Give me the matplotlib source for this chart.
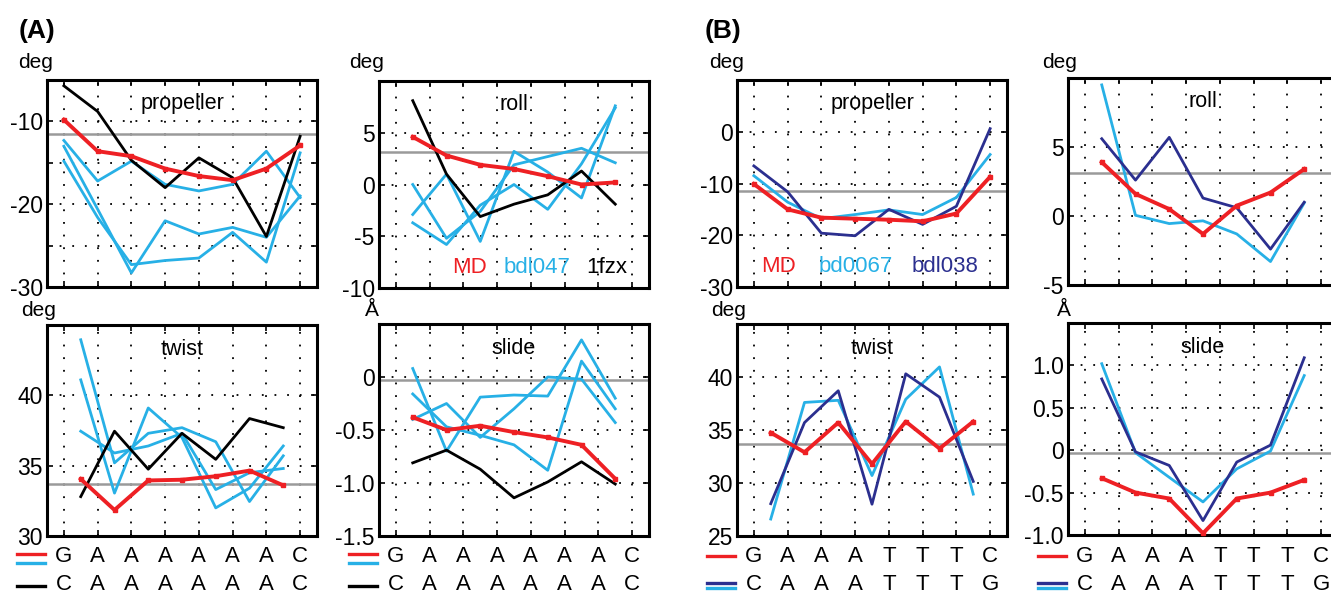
import matplotlib
matplotlib.use("Agg")
import matplotlib.pyplot as plt
import numpy as np
from matplotlib.lines import Line2D
from matplotlib.transforms import blended_transform_factory

plt.rcParams['font.family'] = ['Liberation Sans', 'DejaVu Sans']
plt.rcParams['axes.unicode_minus'] = False

RED = '#ee2024'
CYAN = '#27b0e6'
NAVY = '#2b2f8f'
GRAY = '#9a9a9a'

# ---- data (A): MD, NMR ensemble bdl047 (3 models), X-ray 1fzx ----
a_prop_md = [-9.8, -13.6, -14.2, -15.7, -16.6, -17.1, -15.7, -12.9]
a_prop_xray = [-5.7, -8.8, -14.7, -18.0, -14.4, -16.8, -23.9, -11.8]
a_prop_nmr = [[-12.3, -17.2, -14.8, -17.6, -18.4, -17.6, -13.6, -19.2],
              [-13.0, -20.6, -28.3, -22.0, -23.6, -22.8, -24.0, -19.0],
              [-14.8, -21.6, -27.3, -26.8, -26.5, -23.4, -27.0, -13.8]]

a_roll_md = [4.6, 2.8, 1.9, 1.5, 0.8, 0.0, 0.2]
a_roll_xray = [8.1, 1.0, -3.1, -1.9, -1.0, 1.3, -1.9]
a_roll_nmr = [[0.0, -5.2, -2.6, 1.9, 2.7, 3.5, 2.1],
              [-2.9, 1.0, -5.5, 3.2, 1.2, -1.3, 7.6],
              [-3.7, -5.8, -2.0, 0.0, -2.4, 2.0, 7.4]]

a_twist_md = [34.05, 31.85, 33.95, 34.0, 34.25, 34.65, 33.6]
a_twist_xray = [32.8, 37.45, 34.75, 37.3, 35.45, 38.35, 37.7]
a_twist_nmr = [[41.1, 33.05, 39.1, 37.0, 32.0, 33.4, 36.4],
               [43.95, 35.2, 37.3, 37.7, 36.7, 32.45, 35.7],
               [37.45, 35.9, 36.4, 37.3, 33.3, 34.5, 34.8]]

a_slide_md = [-0.38, -0.50, -0.46, -0.52, -0.57, -0.64, -0.96]
a_slide_xray = [-0.81, -0.69, -0.87, -1.14, -0.99, -0.80, -1.01]
a_slide_nmr = [[0.08, -0.70, -0.19, -0.17, -0.18, 0.35, -0.20],
               [-0.16, -0.47, -0.55, -0.64, -0.88, 0.15, -0.30],
               [-0.40, -0.25, -0.57, -0.30, 0.0, -0.02, -0.43]]

# ---- data (B): MD, bd0067, bdl038 ----
b_prop_md = [-10.1, -15.0, -16.6, -16.8, -17.0, -17.3, -15.8, -8.7]
b_prop_0067 = [-8.5, -13.6, -16.8, -16.0, -15.1, -16.0, -12.7, -4.4]
b_prop_l038 = [-6.6, -11.6, -19.6, -20.1, -15.0, -17.9, -14.4, 0.6]

b_roll_md = [3.9, 1.6, 0.5, -1.3, 0.75, 1.7, 3.4]
b_roll_0067 = [9.5, 0.05, -0.55, -0.35, -1.3, -3.3, 0.95]
b_roll_l038 = [5.6, 2.6, 5.7, 1.3, 0.6, -2.4, 1.0]

b_twist_md = [34.75, 32.9, 35.7, 31.8, 35.8, 33.25, 35.8]
b_twist_0067 = [26.6, 37.6, 37.8, 30.7, 37.9, 40.95, 28.95]
b_twist_l038 = [28.05, 35.7, 38.7, 28.0, 40.3, 38.1, 30.15]

b_slide_md = [-0.33, -0.50, -0.57, -0.98, -0.57, -0.50, -0.35]
b_slide_0067 = [1.02, -0.03, -0.32, -0.61, -0.22, -0.01, 0.88]
b_slide_l038 = [0.84, -0.02, -0.18, -0.83, -0.14, 0.06, 1.09]

# reference (average B-DNA) values
ref_prop, ref_roll, ref_twist, ref_slide = -11.5, 3.15, 33.7, -0.03

a_seq1 = list("GAAAAAAC")
a_seq2 = list("CAAAAAAC")
b_seq1 = list("GAAATTTC")
b_seq2 = list("CAAATTTG")

W, H = 1331, 592
fig = plt.figure(figsize=(W / 100, H / 100), dpi=100)


def px_axes(left, top, width=270, height=207):
    return fig.add_axes([left / W, 1 - (top + height) / H, width / W, height / H])


def setup(ax, ylim, ticks, labels, title, ref):
    ax.set_xlim(0.5, 8.5)
    ax.set_ylim(*ylim)
    ax.set_xticks(range(1, 9))
    ax.set_xticklabels([])
    ax.set_yticks(ticks)
    ax.set_yticklabels(labels)
    ax.grid(True, color='k', linestyle=(0, (1, 6)), linewidth=1.3)
    ax.set_axisbelow(True)
    ax.axhline(ref, color=GRAY, lw=1.8, zorder=1.5)
    for s in ax.spines.values():
        s.set_linewidth(2.2)
    ax.tick_params(direction='in', length=4, width=1.2, top=True, right=True,
                   labelsize=16.5, pad=3)
    ax.text(0.5, 0.885, title, transform=ax.transAxes, ha='center', va='center',
            fontsize=15.5)


def draw(ax, steps, series):
    x = np.arange(1, 8) + 0.5 if steps else np.arange(1, 9)
    for y, c, lw, mk in series:
        ax.plot(x, y, color=c, lw=lw, marker=mk, ms=3.5, zorder=3 if c == RED else 2.5,
                clip_on=False)


def unit(x, y, s):
    fig.text(x / W, 1 - y / H, s, ha='center', va='center', fontsize=15)


def seq(ax, left, row1, row2, lines1, lines2):
    tr = blended_transform_factory(ax.transData, fig.transFigure)
    for i, (c1, c2) in enumerate(zip(row1, row2)):
        ax.text(i + 1, 1 - 557 / H, c1, transform=tr, ha='center', va='center', fontsize=16)
        ax.text(i + 1, 1 - 584 / H, c2, transform=tr, ha='center', va='center', fontsize=16)
    for y, c in lines1 + lines2:
        fig.add_artist(Line2D([(left - 30) / W, (left - 2) / W], [1 - y / H, 1 - y / H],
                              color=c, lw=2.4, transform=fig.transFigure))


LW, LWR = 2.0, 2.8

# ---------------- panel A ----------------
ax = px_axes(47, 80)
setup(ax, (-30, -5), [-30, -25, -20, -15, -10], ['-30', '', '-20', '', '-10'], 'propeller', ref_prop)
draw(ax, False, [(s, CYAN, LW, None) for s in a_prop_nmr] +
     [(a_prop_xray, 'k', LW, None), (a_prop_md, RED, LWR, 's')])
unit(36, 62, 'deg')

ax = px_axes(379, 81)
setup(ax, (-10, 10), [-10, -5, 0, 5], ['-10', '-5', '0', '5'], 'roll', ref_roll)
draw(ax, True, [(s, CYAN, LW, None) for s in a_roll_nmr] +
     [(a_roll_xray, 'k', LW, None), (a_roll_md, RED, LWR, 's')])
ax.text(3.18, -8.0, 'MD', color=RED, ha='center', va='center', fontsize=16)
ax.text(5.17, -8.0, 'bdl047', color=CYAN, ha='center', va='center', fontsize=16)
ax.text(7.25, -8.0, '1fzx', color='k', ha='center', va='center', fontsize=16)
unit(367, 63, 'deg')

ax = px_axes(47, 325, height=211)
setup(ax, (30, 45), [30, 35, 40], ['30', '35', '40'], 'twist', ref_twist)
draw(ax, True, [(s, CYAN, LW, None) for s in a_twist_nmr] +
     [(a_twist_xray, 'k', LW, None), (a_twist_md, RED, LWR, 's')])
seq(ax, 47, a_seq1, a_seq2, [(554, RED), (563, CYAN)], [(586, 'k')])
unit(39, 311, 'deg')

ax = px_axes(379, 324, height=212)
setup(ax, (-1.5, 0.5), [-1.5, -1.0, -0.5, 0], ['-1.5', '-1.0', '-0.5', '0'], 'slide', ref_slide)
draw(ax, True, [(s, CYAN, LW, None) for s in a_slide_nmr] +
     [(a_slide_xray, 'k', LW, None), (a_slide_md, RED, LWR, 's')])
seq(ax, 379, a_seq1, a_seq2, [(554, RED), (563, CYAN)], [(586, 'k')])
unit(372, 311, 'Å')

# ---------------- panel B ----------------
ax = px_axes(737, 80)
setup(ax, (-30, 10), [-30, -20, -10, 0], ['-30', '-20', '-10', '0'], 'propeller', ref_prop)
draw(ax, False, [(b_prop_0067, CYAN, LW, None), (b_prop_l038, NAVY, LW, None),
                 (b_prop_md, RED, LWR, 's')])
ax.text(1.73, -26.1, 'MD', color=RED, ha='center', va='center', fontsize=16)
ax.text(4.03, -26.1, 'bd0067', color=CYAN, ha='center', va='center', fontsize=16)
ax.text(6.65, -26.1, 'bdl038', color=NAVY, ha='center', va='center', fontsize=16)
unit(727, 62, 'deg')

ax = px_axes(1068, 78)
setup(ax, (-5, 10), [-5, 0, 5], ['-5', '0', '5'], 'roll', ref_roll)
draw(ax, True, [(b_roll_0067, CYAN, LW, None), (b_roll_l038, NAVY, LW, None),
                (b_roll_md, RED, LWR, 's')])
unit(1060, 62, 'deg')

ax = px_axes(737, 324, height=212)
setup(ax, (25, 45), [25, 30, 35, 40], ['25', '30', '35', '40'], 'twist', ref_twist)
draw(ax, True, [(b_twist_0067, CYAN, LW, None), (b_twist_l038, NAVY, LW, None),
                (b_twist_md, RED, LWR, 's')])
seq(ax, 737, b_seq1, b_seq2, [(556, RED)], [(583, NAVY), (588, CYAN)])
unit(729, 311, 'deg')

ax = px_axes(1068, 323, height=212)
setup(ax, (-1.0, 1.5), [-1.0, -0.5, 0, 0.5, 1.0], ['-1.0', '-0.5', '0', '0.5', '1.0'], 'slide', ref_slide)
draw(ax, True, [(b_slide_0067, CYAN, LW, None), (b_slide_l038, NAVY, LW, None),
                (b_slide_md, RED, LWR, 's')])
seq(ax, 1068, b_seq1, b_seq2, [(556, RED)], [(583, NAVY), (588, CYAN)])
unit(1064, 311, 'Å')

fig.text(37 / W, 1 - 31 / H, '(A)', ha='center', va='center', fontsize=19, fontweight='bold')
fig.text(723 / W, 1 - 31 / H, '(B)', ha='center', va='center', fontsize=19, fontweight='bold')

fig.savefig('out.png', dpi=100)
